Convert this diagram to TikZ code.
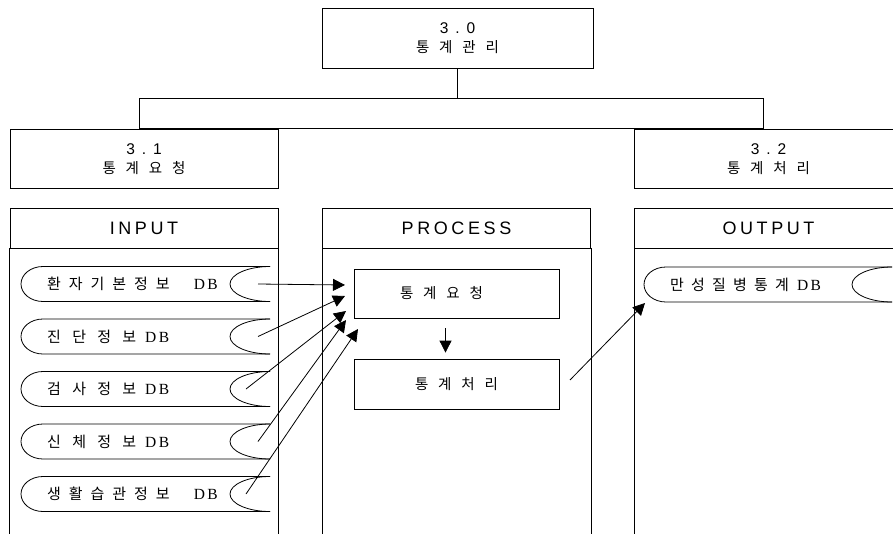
\documentclass[tikz,border=0pt]{standalone}
\usepackage{fontspec}
\setmainfont{Liberation Sans}
\newfontfamily\krfont{Noto Sans CJK KR}[LetterSpace=68]
\newfontfamily\dbfont{Liberation Serif}
\newfontfamily\capfont{Liberation Sans}[LetterSpace=20]
\newfontfamily\numfont{Liberation Sans}[LetterSpace=45]
\usetikzlibrary{arrows.meta}

% korean name of a data store (letter spacing, gap) followed by "D B"
\newcommand{\dbname}[3]{{\krfont\addfontfeature{LetterSpace=#1}#3}\hspace{#2pt}{\fontsize{15.5}{16}\dbfont D\hspace{2.5pt}B}}

\tikzset{
	level/.style={draw, line width=0.8pt, minimum width=268pt, minimum height=59pt, inner sep=0pt, align=center, font=\fontsize{14.5}{19}\selectfont},
	colhead/.style={draw, line width=0.8pt, minimum width=268pt, minimum height=40pt, inner sep=0pt, font=\fontsize{18}{20}\capfont},
	task/.style={draw, line width=0.8pt, minimum width=205pt, minimum height=49pt, inner sep=0pt, font=\fontsize{14.5}{16}\krfont},
	dbtext/.style={anchor=west, inner sep=0pt, font=\fontsize{15}{16}\selectfont},
	dbline/.style={line width=0.8pt},
	flow/.style={-{Triangle[length=12pt,width=12pt]}, line width=0.8pt},
}

\begin{document}
\begin{tikzpicture}[x=10pt, y=-10pt]
	\path[use as bounding box, fill=white] (0,0) rectangle (89.3,53.3);

	% Hierarchy
	\node[level, minimum width=271pt, minimum height=60pt] (top) at (45.75,3.8) {{\fontsize{15.5}{19}\numfont 3.0}\\{\krfont 통계관리}};
	\node[draw, line width=0.8pt, minimum width=624pt, minimum height=30pt] (bar) at (45.1,11.3) {};
	\draw[line width=0.8pt] (top.south) -- (top.south |- bar.north);
	\node[level] (req31) at (14.4,15.9) {{\fontsize{15.5}{19}\numfont 3.1}\\{\krfont 통계요청}};
	\node[level] (proc32) at (76.85,15.9) {{\fontsize{15.5}{19}\numfont 3.2}\\{\krfont 통계처리}};

	% Columns
	\foreach \c/\x/\t in {inp/14.4/INPUT, pro/45.65/PROCESS, out/76.85/OUTPUT} {
		\node[colhead] (\c) at (\x,22.8) {\t};
		\draw[line width=0.8pt] (\c.south west) -- ++(0,30) (\c.south east) -- ++(0,30);
	}

	% Process steps
	\node[task] (req) at (45.65,29.35) {통계요청\kern30pt};
	\node[task, minimum height=50pt] (proc) at (45.65,38.4) {통계처리};
	\draw[flow, shorten <=10pt, shorten >=6pt] ([xshift=-11pt]req.south) -- ([xshift=-11pt]proc.north);

	% Input stores and their flows
	\foreach \n/\y/\txt/\ls/\gap/\sx/\tx/\ty in {1/28.4/환자기본정보/53/24/25.8/34.5/28.5, 2/33.65/진단정보/75/9/25.8/34.5/29.6,
		3/38.9/검사정보/75/9/24.6/34.6/31.1, 4/44.15/신체정보/75/9/25.8/34.6/32.0, 5/49.4/생활습관정보/53/24/24.6/35.8/32.9} {
		\draw[dbline] (27,\y-1.75) -- (4.3,\y-1.75) arc[start angle=90, end angle=270, x radius=22pt, y radius=17.5pt] -- (27,\y+1.75);
		\draw[dbline] (27,\y-1.75) arc[start angle=90, end angle=270, x radius=40pt, y radius=17.5pt];
		\node[dbtext] (db\n) at (4.7,\y) {\dbname{\ls}{\gap}{\txt}};
		\coordinate (s\n) at (\sx,\y);
		\coordinate (t\n) at (\tx,\ty);
		\draw[flow] (s\n) -- (t\n);
	}

	% Output store
	\draw[dbline] (89.2,26.7) -- (66.6,26.7) arc[start angle=90, end angle=270, x radius=22pt, y radius=17.5pt] -- (89.2,30.2);
	\draw[dbline] (89.2,26.7) arc[start angle=90, end angle=270, x radius=40pt, y radius=17.5pt];
	\node[dbtext] (dbout) at (67.0,28.45) {\dbname{48}{8}{만성질병통계}};
	\coordinate (o1) at (57.0,38.0);
	\coordinate (o2) at (64.5,30.3);
	\draw[flow] (o1) -- (o2);
\end{tikzpicture}
\end{document}
